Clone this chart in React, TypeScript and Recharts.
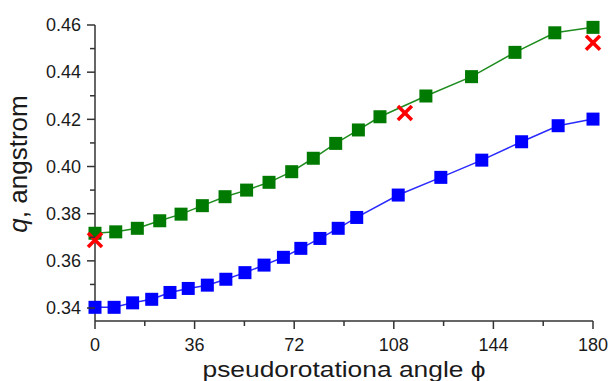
import { ComposedChart, Line, Scatter, XAxis, YAxis } from "recharts";

// pseudorotation angle (deg) and puckering amplitude q (angstrom)
const blueAngle = [0, 6.9, 13.6, 20.5, 27.1, 33.7, 40.6, 47.3, 54.2, 61.1, 68.1, 74.4, 81.3, 87.9, 94.6, 109.6, 125, 139.8, 154.2, 167.4, 180];
const blueQ = [0.3403, 0.3403, 0.3422, 0.3437, 0.3466, 0.3483, 0.3497, 0.3522, 0.355, 0.3582, 0.3615, 0.3653, 0.3695, 0.3738, 0.3784, 0.3879, 0.3954, 0.4027, 0.4105, 0.4173, 0.4201];

const greenAngle = [0, 7.5, 15.3, 23.4, 31.1, 38.8, 47, 54.8, 62.9, 71.1, 78.9, 87, 95.2, 103, 119.6, 136.1, 151.8, 166.2, 180];
const greenQ = [0.3717, 0.3723, 0.3738, 0.377, 0.3798, 0.3834, 0.3872, 0.39, 0.3933, 0.3978, 0.4035, 0.4098, 0.4155, 0.4211, 0.4299, 0.4381, 0.4484, 0.4567, 0.459];

const crossAngle = [0, 112, 180];
const crossQ = [0.3688, 0.4227, 0.4525];

const xMajorTicks = [0, 36, 72, 108, 144, 180];
const xMinorTicks = [18, 54, 90, 126, 162];
const yMajorTicks = [0.34, 0.36, 0.38, 0.4, 0.42, 0.44, 0.46];
const yMinorTicks = [0.35, 0.37, 0.39, 0.41, 0.43, 0.45];

const FONT = '"Liberation Sans", Arial, sans-serif';
const AXIS = "#333";

const blueData = blueAngle.map((x, i) => ({ x, q: blueQ[i] }));
const greenData = greenAngle.map((x, i) => ({ x, q: greenQ[i] }));
const crossData = crossAngle.map((x, i) => ({ x, q: crossQ[i] }));

const isMajor = (list: number[], v: number) => list.some((m) => Math.abs(m - v) < 1e-6);

function XTick(props: any) {
  const { x, y, payload } = props;
  const major = isMajor(xMajorTicks, payload.value);
  return (
    <g>
      <line x1={x} x2={x} y1={y} y2={y + (major ? 8 : 5)} stroke={AXIS} strokeWidth={1.5} />
      {major && (
        <text x={x} y={y + 30} textAnchor="middle" fontSize={18} fontFamily={FONT} fill="#1a1a1a">
          {payload.value}
        </text>
      )}
    </g>
  );
}

function YTick(props: any) {
  const { x, y, payload } = props;
  const major = isMajor(yMajorTicks, payload.value);
  return (
    <g>
      <line x1={x - (major ? 8 : 5)} x2={x} y1={y} y2={y} stroke={AXIS} strokeWidth={1.5} />
      {major && (
        <text x={x - 14} y={y} dy="0.35em" textAnchor="end" fontSize={18} fontFamily={FONT} fill="#1a1a1a">
          {payload.value.toFixed(2)}
        </text>
      )}
    </g>
  );
}

const squareDot = (color: string) => (p: any) => (
  <rect key={`d-${p.index}`} x={p.cx - 6.5} y={p.cy - 6.5} width={13} height={13} fill={color} />
);

function Cross(p: any) {
  const s = 7;
  return (
    <g>
      <line x1={p.cx - s} y1={p.cy - s} x2={p.cx + s} y2={p.cy + s} stroke="#ff0000" strokeWidth={3.5} />
      <line x1={p.cx - s} y1={p.cy + s} x2={p.cx + s} y2={p.cy - s} stroke="#ff0000" strokeWidth={3.5} />
    </g>
  );
}

export default function App() {
  return (
    <div style={{ position: "absolute", left: 0, top: 0, background: "#fff" }}>
      <ComposedChart width={611} height={381} margin={{ top: 25, right: 18, left: 0, bottom: 0 }}>
        <XAxis
          type="number"
          dataKey="x"
          domain={[0, 180]}
          ticks={[...xMajorTicks, ...xMinorTicks].sort((a, b) => a - b)}
          interval={0}
          height={60}
          tickSize={0}
          tickMargin={0}
          tickLine={false}
          tick={<XTick />}
          axisLine={{ stroke: AXIS, strokeWidth: 1.5 }}
          label={{
            content: (p: any) => (
              <text
                x={p.viewBox.x + p.viewBox.width / 2}
                y={376.5}
                textAnchor="middle"
                fontSize={22}
                textLength={283}
                lengthAdjust="spacingAndGlyphs"
                fontFamily={FONT}
                fill="#1a1a1a"
              >
                pseudorotationa angle ϕ
              </text>
            ),
          }}
        />
        <YAxis
          type="number"
          dataKey="q"
          domain={[0.3345, 0.46]}
          ticks={[...yMajorTicks, ...yMinorTicks].sort((a, b) => a - b)}
          interval={0}
          width={95}
          tickSize={0}
          tickMargin={0}
          tickLine={false}
          tick={<YTick />}
          axisLine={{ stroke: AXIS, strokeWidth: 1.5 }}
          label={{
            content: () => (
              <text
                x={27}
                y={164}
                transform="rotate(-90 27 164)"
                textAnchor="middle"
                fontSize={26}
                fontFamily={FONT}
                fill="#1a1a1a"
              >
                <tspan fontStyle="italic">q</tspan>, angstrom
              </text>
            ),
          }}
        />
        <Line
          data={blueData}
          dataKey="q"
          stroke="#2a2aff"
          strokeWidth={1.5}
          dot={squareDot("#0000ff")}
          activeDot={false}
          isAnimationActive={false}
        />
        <Line
          data={greenData}
          dataKey="q"
          stroke="#1e8c1e"
          strokeWidth={1.5}
          dot={squareDot("#007a00")}
          activeDot={false}
          isAnimationActive={false}
        />
        <Scatter data={crossData} dataKey="q" shape={<Cross />} isAnimationActive={false} />
      </ComposedChart>
    </div>
  );
}
